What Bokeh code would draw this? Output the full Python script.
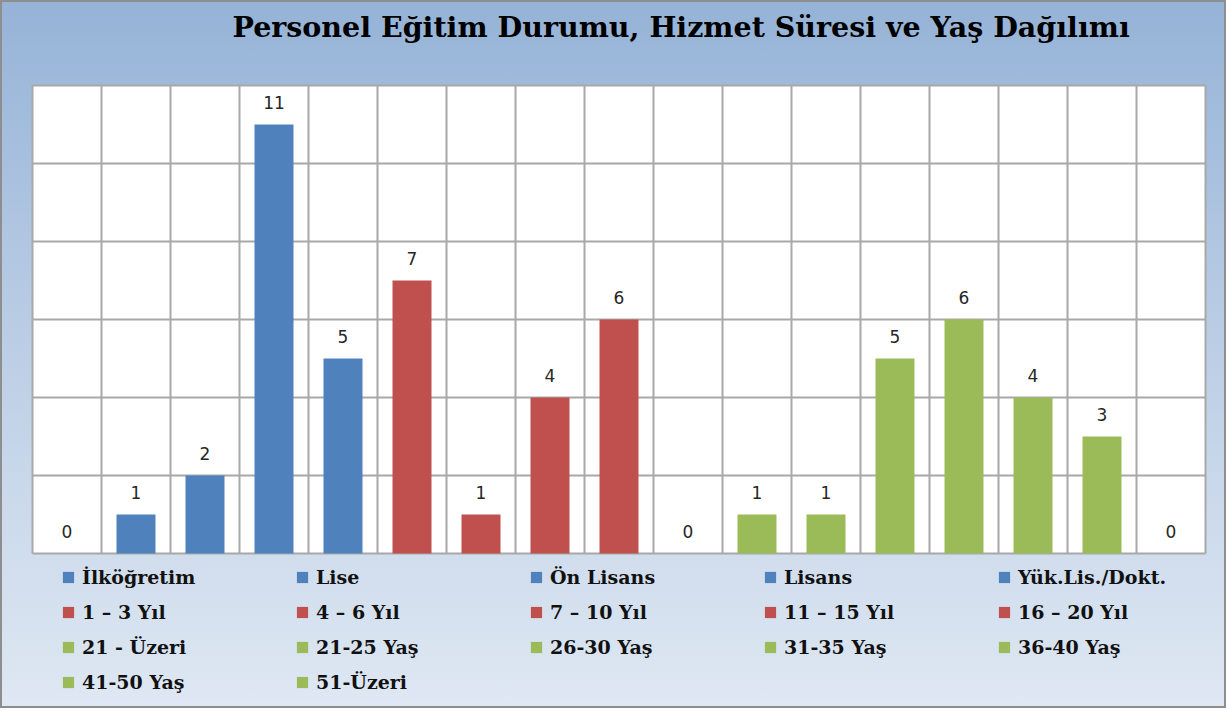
from bokeh.plotting import figure
from bokeh.models import ColumnDataSource, Legend, LegendItem, Range1d, Label
from bokeh.embed import file_html
from bokeh.resources import INLINE
from bokeh.core.properties import value

# ---------------- data ----------------
title_text = "Personel Eğitim Durumu, Hizmet Süresi ve Yaş Dağılımı"
categories = ["İlköğretim", "Lise", "Ön Lisans", "Lisans", "Yük.Lis./Dokt.",
              "1 – 3 Yıl", "4 – 6 Yıl", "7 – 10 Yıl", "11 – 15 Yıl", "16 – 20 Yıl",
              "21 - Üzeri", "21-25 Yaş", "26-30 Yaş", "31-35 Yaş", "36-40 Yaş",
              "41-50 Yaş", "51-Üzeri"]
values = [0, 1, 2, 11, 5, 7, 1, 4, 6, 0, 1, 1, 5, 6, 4, 3, 0]
groups = ["edu"] * 5 + ["service"] * 5 + ["age"] * 7
group_colors = {"edu": "#4F81BD", "service": "#C0504D", "age": "#9BBB59"}
y_ticks = [0, 2, 4, 6, 8, 10, 12]

# ---------------- layout (pixels) ----------------
W, H = 1226, 708
PX_L, PX_R, PY_T, PY_B = 32, 1205, 85, 553
n = len(categories)
y_max = y_ticks[-1]
sx = (PX_R - PX_L) / n
sy = (PY_B - PY_T) / y_max


def dx(px):
    return (px - PX_L) / sx


def dy(py):
    return (PY_B - py) / sy


src = ColumnDataSource(dict(
    x=[i + 0.5 for i in range(n)],
    value=values,
    label=[str(v) for v in values],
    color=[group_colors[g] for g in groups],
))

p = figure(width=W, height=H,
           x_range=Range1d(dx(0), dx(W)), y_range=Range1d(dy(H), dy(0)),
           output_backend="svg", toolbar_location=None,
           min_border=0, min_border_left=0, min_border_right=0,
           min_border_top=0, min_border_bottom=0)

p.styles = {"background": "linear-gradient(180deg, #95b3d7 0%, #b9cce4 45%, #dfe8f3 100%)",
            "box-shadow": "inset 0 0 0 2px #8e8e8e"}
p.border_fill_color = None
p.background_fill_color = None
p.outline_line_color = None
p.xaxis.visible = False
p.yaxis.visible = False
p.grid.visible = False

# plot area
p.quad(left=[0], right=[n], bottom=[y_ticks[0]], top=[y_max],
       fill_color="white", line_color=None)
# grid lines
vx = list(range(n + 1))
p.segment(x0=vx, x1=vx, y0=[y_ticks[0]] * len(vx), y1=[y_max] * len(vx),
          line_color="#a8a8a8", line_width=2)
p.segment(x0=[0] * len(y_ticks), x1=[n] * len(y_ticks), y0=y_ticks, y1=y_ticks,
          line_color="#a8a8a8", line_width=2)

r = p.vbar(x="x", top="value", width=0.565, bottom=0, source=src,
           fill_color="color", line_color=None)

p.text(x="x", y="value", text="label", source=src,
       text_align="center", text_baseline="middle", y_offset=-22,
       text_font=value("DejaVu Sans"), text_font_size="17px", text_color="#262626")

p.add_layout(Label(x=dx(232), y=dy(26), text=title_text,
                   text_baseline="alphabetic", text_align="left",
                   text_font="DejaVu Serif", text_font_style="bold",
                   text_font_size="28.5px", text_color="black"))

items = [LegendItem(label=c, renderers=[r], index=i) for i, c in enumerate(categories)]
legend = Legend(items=items, orientation="horizontal", ncols=5,
                location=(61, 15),
                glyph_width=14, glyph_height=14, label_standoff=7,
                label_width=200, label_height=14, spacing=13,
                padding=0, margin=0,
                border_line_color=None, background_fill_alpha=0,
                label_text_font="DejaVu Serif", label_text_font_style="bold",
                label_text_font_size="19px", label_text_color="#111111")
p.add_layout(legend, "center")

open("out.html", "w").write(file_html(p, INLINE))
